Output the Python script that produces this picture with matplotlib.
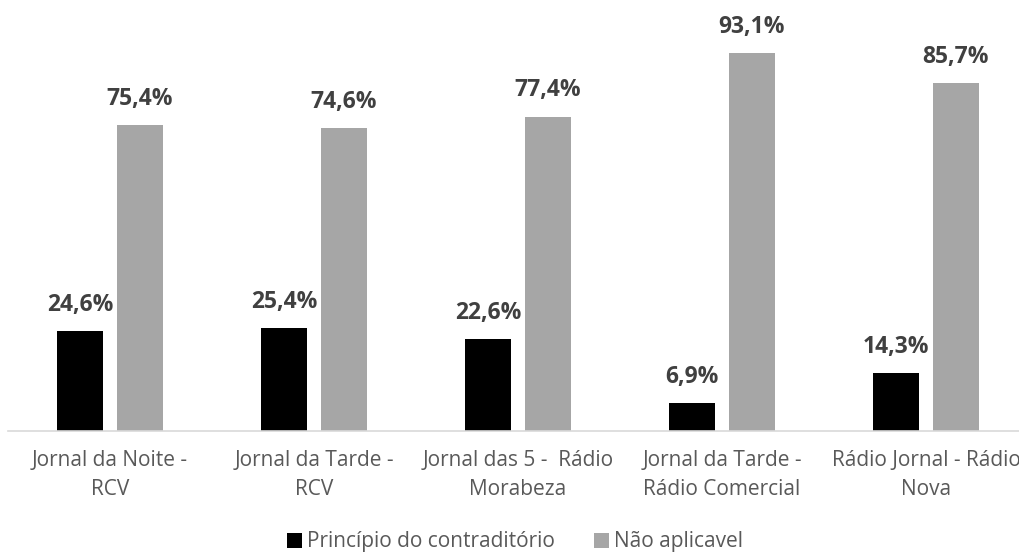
import numpy as np
import matplotlib as mpl; mpl.use('Agg')
import matplotlib.pyplot as plt

mpl.rcParams['font.family'] = ['Open Sans', 'DejaVu Sans']

cats = ['Jornal da Noite -\nRCV', 'Jornal da Tarde -\nRCV', 'Jornal das 5 -  Rádio\nMorabeza',
        'Jornal da Tarde -\nRádio Comercial', 'Rádio Jornal - Rádio\nNova']
contraditorio = [24.6, 25.4, 22.6, 6.9, 14.3]
nao_aplicavel = [75.4, 74.6, 77.4, 93.1, 85.7]
series_names = ['Princípio do contraditório', 'Não aplicavel']

fig = plt.figure(figsize=(10.2, 5.54), dpi=100)
ax = fig.add_axes([8/1020, 123/554, 1.0, 406/554])

x = np.arange(len(cats))
w = 0.225; off = 0.145
b1 = ax.bar(x - off, contraditorio, w, color='#000000', label=series_names[0])
b2 = ax.bar(x + off, nao_aplicavel, w, color='#a6a6a6', label=series_names[1])

# value labels above each bar, decimal comma
for bars, vals in ((b1, contraditorio), (b2, nao_aplicavel)):
    for r, v in zip(bars, vals):
        ax.text(r.get_x() + r.get_width()/2, v + 5.0, f'{v:.1f}%'.replace('.', ','),
                ha='center', va='baseline', fontsize=16.5, fontweight='bold', color='#404040')

ax.set_xlim(-0.5, 4.5)
ax.set_ylim(0, 100)
ax.set_yticks([])
for s in ['top', 'right', 'left']:
    ax.spines[s].set_visible(False)
ax.spines['bottom'].set_color('#d9d9d9')
ax.spines['bottom'].set_linewidth(1.2)
ax.set_xticks(x)
ax.set_xticklabels(cats, fontsize=15, color='#595959', linespacing=1.45)
ax.tick_params(axis='x', length=0, pad=14)

fig.legend(handles=[b1, b2], labels=series_names, loc='center', bbox_to_anchor=(515/1020, 1 - 542/554),
           ncol=2, frameon=False, fontsize=15, labelcolor='#595959', handlelength=0.7, handleheight=0.7,
           handletextpad=0.25, columnspacing=1.9, borderpad=0)

fig.savefig('out.png', dpi=100)
